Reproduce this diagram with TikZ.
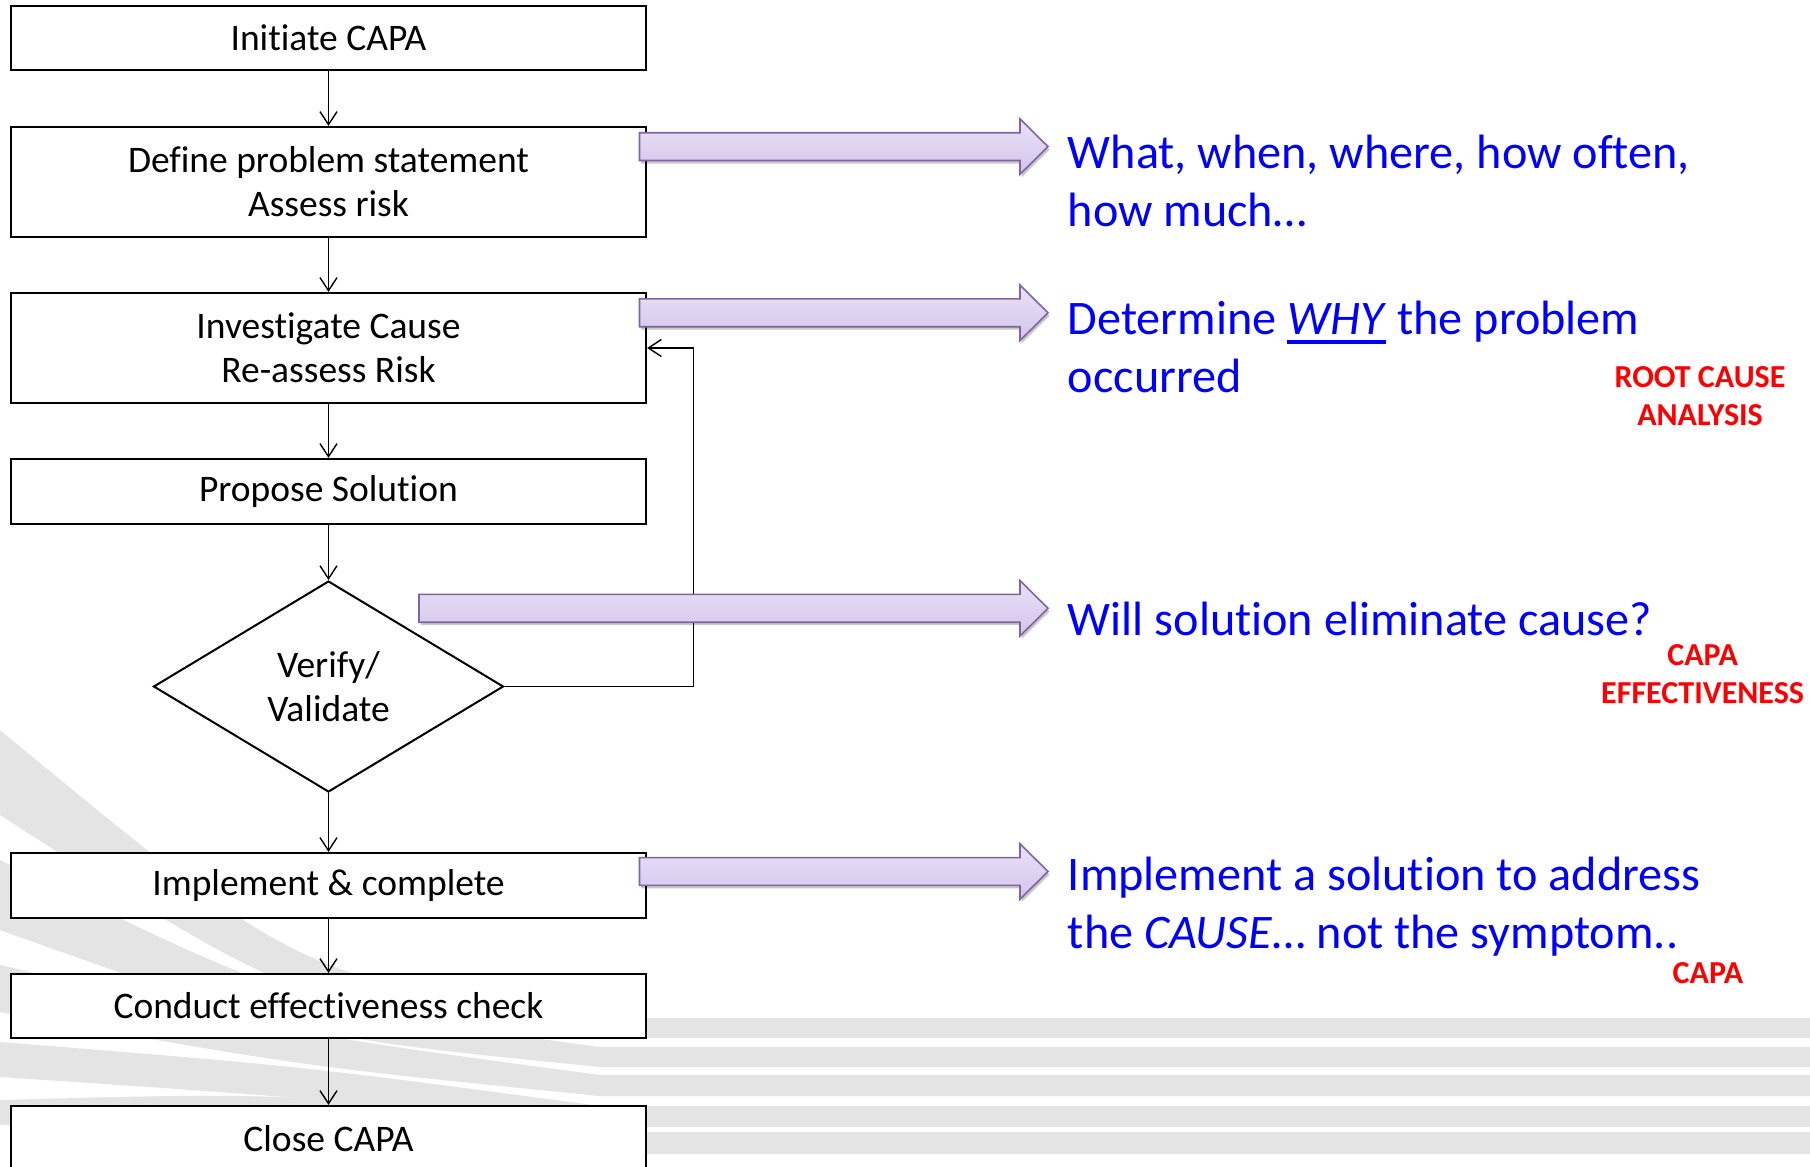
\documentclass[tikz,border=0pt]{standalone}
\usepackage{fontspec}
\setmainfont{Carlito}[Ligatures=CommonOff]
\usetikzlibrary{arrows.meta,shapes.geometric,shadows}

\definecolor{bandgray}{HTML}{E4E4E4}
\definecolor{arrowline}{HTML}{8064A2}
\definecolor{arrowtop}{HTML}{EAE2F7}
\definecolor{arrowbot}{HTML}{D3C4EA}
\definecolor{noteblue}{HTML}{0000FF}
\definecolor{notered}{HTML}{FF0000}

\tikzset{
  stepbox/.style={draw=black, line width=2.2pt, fill=white, minimum width=635pt,
    inner sep=0pt, align=center, font=\fontsize{37.5}{44}\selectfont},
  decision/.style={diamond, draw=black, line width=2pt, fill=white, minimum width=350pt,
    minimum height=211pt, inner sep=0pt, align=center, font=\fontsize{37.5}{44}\selectfont},
  flow/.style={line width=1.4pt, -{Straight Barb[length=13pt,width=17pt,line width=1.4pt]}},
  note/.style={text=noteblue, anchor=west, align=left, inner sep=0pt,
    font=\fontsize{48.2}{58}\selectfont},
  tag/.style={text=notered, align=center, inner sep=0pt,
    font=\fontsize{32}{38}\selectfont\bfseries},
  fatarrow/.style={draw=arrowline, line width=1.6pt, top color=arrowtop, bottom color=arrowbot,
    drop shadow={shadow xshift=1.5pt, shadow yshift=-3pt, opacity=0.22, fill=black}},
  band/.style={fill=bandgray, draw=none}
}

% horizontal block arrow: start x, centre y
\newcommand\blockarrow[2]{%
  \path[fatarrow] ({#1},{#2-13.9}) -- (1020,{#2-13.9}) -- (1020,{#2-27.7}) -- (1048,{#2})
    -- (1020,{#2+27.7}) -- (1020,{#2+13.9}) -- ({#1},{#2+13.9}) -- cycle;}

% one background band: left-edge top/bottom, stripe top/bottom
\newcommand\bgband[4]{%
  \fill[band] (0,#1) .. controls (300,{#3-40}) .. (600,#3) -- (1810,#3) -- (1810,#4)
    -- (600,#4) .. controls (300,{#4-30}) .. (0,#2) -- cycle;}

% heavy underline
\newcommand\heavyul[1]{\setbox0\hbox{#1}\rlap{\rule[-9pt]{\wd0}{3.2pt}}\box0\relax}

\begin{document}
\begin{tikzpicture}[x=1pt,y=-1pt]
\useasboundingbox (0,0) rectangle (1810,1167);
\fill[white] (0,0) rectangle (1810,1167);
\clip (0,0) rectangle (1810,1167);

% background bands
\bgband{730}{815}{1018}{1038}
\bgband{860}{930}{1047}{1067}
\bgband{965}{1012}{1075}{1096}
\bgband{1042}{1077}{1106}{1127}
\bgband{1100}{1125}{1132}{1154}

% flow chart
\node[stepbox, minimum height=64pt] (initiate) at (328.5,38) {Initiate CAPA};
\node[stepbox, minimum height=110pt] (define) at (328.5,182) {Define problem statement\\Assess risk};
\node[stepbox, minimum height=110pt] (investigate) at (328.5,348) {Investigate Cause\\Re-assess Risk};
\node[stepbox, minimum height=65pt] (propose) at (328.5,491.5) {Propose Solution};
\node[decision] (verify) at (328.5,686.5) {Verify/\\Validate};
\node[stepbox, minimum height=65pt] (implement) at (328.5,885.5) {Implement \& complete};
\node[stepbox, minimum height=64pt] (conduct) at (328.5,1006) {Conduct effectiveness check};
\node[stepbox, minimum height=65pt] (close) at (328.5,1138.5) {Close CAPA};

\draw[flow] (initiate) -- (define);
\draw[flow] (define) -- (investigate);
\draw[flow] (investigate) -- (propose);
\draw[flow] (propose) -- (verify);
\draw[flow] (verify) -- (implement);
\draw[flow] (implement) -- (conduct);
\draw[flow] (conduct) -- (close);

\coordinate (loopx) at (693.7,0);
\draw[flow] (verify.east) -- (verify.east -| loopx) -- (loopx |- investigate.east) -- (investigate.east);

% block arrows
\blockarrow{639.5}{146.6}
\blockarrow{639.5}{312.8}
\blockarrow{419}{608.3}
\blockarrow{639.5}{871.5}

% notes
\node[note] (n1) at (1067.7,181) {What, when, where, how often,\\how much…};
\node[note] (n2) at (1067.7,347) {Determine \heavyul{\textit{WHY}} the problem\\occurred};
\node[note] (n3) at (1067.7,618.7) {Will solution eliminate cause?};
\node[note] (n4) at (1067.7,907) {Implement a solution to address\\the \textit{CAUSE}… not the symptom..};

\node[tag] (t1) at (1700,396.5) {ROOT CAUSE\\ANALYSIS};
\node[tag] (t2) at (1702.6,674.6) {CAPA\\EFFECTIVENESS};
\node[tag] (t3) at (1708,973) {CAPA};
\end{tikzpicture}
\end{document}
